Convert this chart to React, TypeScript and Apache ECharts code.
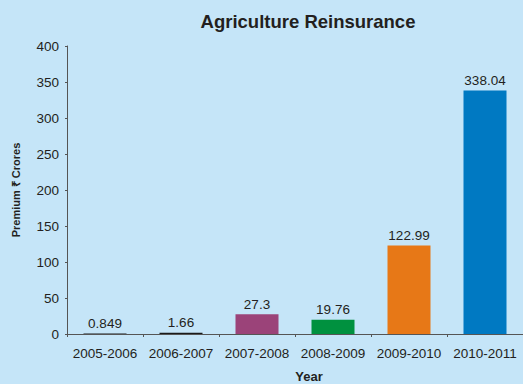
import React, { useEffect, useRef } from "react";
import * as echarts from "echarts";

const categories = ["2005-2006", "2006-2007", "2007-2008", "2008-2009", "2009-2010", "2010-2011"];
const values = [0.849, 1.66, 27.3, 19.76, 122.99, 338.04];
const labels = ["0.849", "1.66", "27.3", "19.76", "122.99", "338.04"];
const barColors = ["#1a1a1a", "#1a1a1a", "#9b4379", "#00913f", "#e77817", "#0079c2"];
const yTicks = { min: 0, max: 400, interval: 50 };
const xAxisTitle = "Year";

export default function App() {
  const ref = useRef<HTMLDivElement>(null);
  useEffect(() => {
    if (!ref.current) return;
    const chart = echarts.init(ref.current, null, { renderer: "svg" });
    chart.setOption({
      animation: false,
      backgroundColor: "#c5e5f8",
      textStyle: { fontFamily: "'Liberation Sans', Arial, sans-serif" },
      title: {
        text: "Agriculture Reinsurance",
        left: 303,
        textAlign: "center",
        top: 7,
        textStyle: { fontSize: 18.5, fontWeight: "bold", color: "#231f20" },
      },
      graphic: [
        {
          type: "text",
          x: 309,
          y: 376,
          style: {
            text: xAxisTitle,
            fontSize: 13,
            fontWeight: "bold",
            fill: "#231f20",
            fontFamily: "'Liberation Sans', Arial, sans-serif",
            textAlign: "center",
            textVerticalAlign: "middle",
          },
        },
      ],
      grid: { left: 67, top: 46, width: 456, height: 288, containLabel: false, outerBoundsMode: "none" },
      xAxis: {
        type: "category",
        data: categories,
        axisLine: { lineStyle: { color: "#555", width: 1 } },
        axisTick: { show: true, length: 3, lineStyle: { color: "#555" } },
        axisLabel: { fontSize: 13.5, color: "#231f20", margin: 12, interval: 0, hideOverlap: false },
      },
      yAxis: {
        type: "value",
        min: yTicks.min,
        max: yTicks.max,
        interval: yTicks.interval,
        name: "Premium \u20b9 Crores",
        nameLocation: "middle",
        nameGap: 46,
        nameRotate: 90,
        nameTextStyle: { fontSize: 11, fontWeight: "bold", color: "#231f20" },
        axisLine: { show: true, lineStyle: { color: "#555", width: 1 } },
        axisTick: { show: true, length: 2, lineStyle: { color: "#555" } },
        axisLabel: { fontSize: 13.5, color: "#231f20", margin: 8 },
        splitLine: { show: false },
      },
      series: [
        {
          type: "bar",
          barWidth: 43,
          data: values.map((v, i) => ({ value: v, itemStyle: { color: barColors[i] } })),
          label: {
            show: true,
            position: "top",
            distance: 3,
            fontSize: 13.5,
            color: "#231f20",
            formatter: (p: any) => labels[p.dataIndex],
          },
        },
      ],
    });
    return () => chart.dispose();
  }, []);
  return <div ref={ref} style={{ position: "absolute", left: 0, top: 0, width: 523, height: 384 }} />;
}
